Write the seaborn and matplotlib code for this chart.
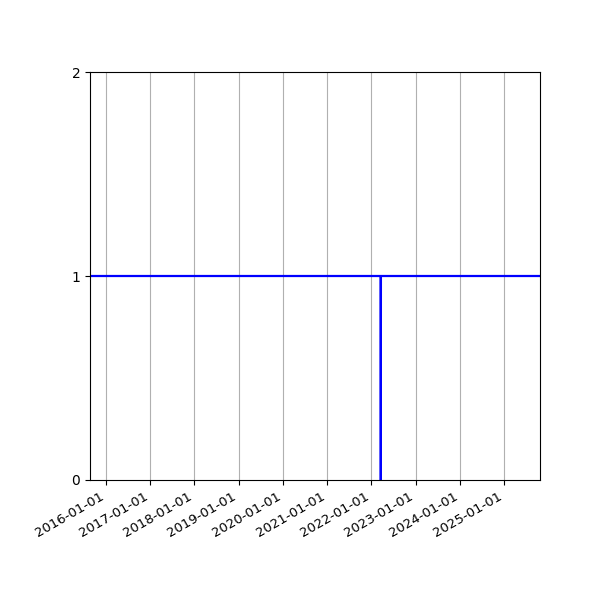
import matplotlib
matplotlib.use("Agg")
import matplotlib.pyplot as plt
import matplotlib.dates as mdates
import seaborn as sns
import pandas as pd

dates = ["2015-08-22", "2022-03-19", "2022-03-20", "2022-03-21", "2025-10-25"]
values = [1, 1, 0, 1, 1]
y_ticks = [0, 1, 2]

df = pd.DataFrame({"date": pd.to_datetime(dates), "value": values})

fig, ax = plt.subplots(figsize=(6, 6), dpi=100)
sns.lineplot(data=df, x="date", y="value", ax=ax, color="blue", linewidth=1.6)

ax.set_xlim(df["date"].min(), df["date"].max())
ax.set_ylim(0, 2)
ax.set_yticks(y_ticks)
ax.xaxis.set_major_locator(mdates.YearLocator())
ax.xaxis.set_major_formatter(mdates.DateFormatter("%Y-%m-%d"))
ax.grid(True, axis="x", color="#b0b0b0", linewidth=0.8)
ax.set_xlabel("")
ax.set_ylabel("")
fig.autofmt_xdate()
ax.tick_params(axis="x", labelsize=9.5)
fig.subplots_adjust(left=0.15, right=0.9, top=0.88, bottom=0.2)
fig.savefig("out.png", dpi=100)
